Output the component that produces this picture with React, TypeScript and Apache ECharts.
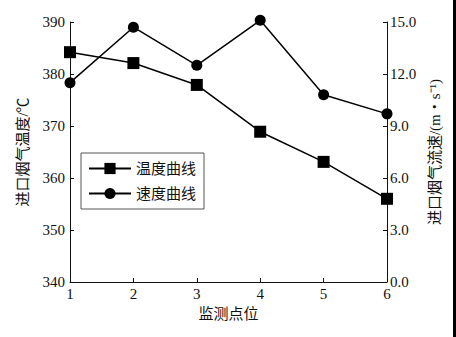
import React, { useEffect, useRef } from "react";
import * as echarts from "echarts";

const positions = [1, 2, 3, 4, 5, 6];
const temperature = [384.2, 382.1, 377.9, 368.9, 363.1, 356.0];
const speed = [11.5, 14.7, 12.5, 15.1, 10.8, 9.7];
const tempName = "温度曲线";
const speedName = "速度曲线";
const xName = "监测点位";
const leftName = "进口烟气温度/℃";
const rightName = "进口烟气流速/(m・s⁻¹)";

const FONT = "'Liberation Serif', 'Noto Sans CJK SC', serif";
const NUMFONT = "Liberation Serif";

export default function App() {
  const ref = useRef<HTMLDivElement>(null);
  useEffect(() => {
    if (!ref.current) return;
    const chart = echarts.init(ref.current, undefined, { renderer: "svg" });
    const axisCommon = {
      axisLine: { show: true, lineStyle: { color: "#111", width: 1 } },
      axisTick: { show: true, inside: true, length: 4, lineStyle: { color: "#111" } },
      splitLine: { show: false },
      axisLabel: { color: "#111", fontSize: 15, fontFamily: NUMFONT },
      nameTextStyle: { color: "#111", fontSize: 15, fontFamily: FONT },
    };
    chart.setOption({
      animation: false,
      backgroundColor: "#fff",
      textStyle: { fontFamily: FONT },
      grid: { left: 70, right: 69, top: 22, bottom: 55, containLabel: false },
      legend: {
        orient: "vertical",
        left: 81,
        top: 153,
        width: 124,
        borderColor: "#555",
        borderWidth: 1,
        padding: [8, 8, 8, 7],
        itemWidth: 42,
        itemHeight: 14,
        itemGap: 10,
        textStyle: { fontSize: 15, color: "#111", fontFamily: FONT },
        data: [tempName, speedName],
      },
      xAxis: {
        type: "value",
        min: 1,
        max: 6,
        interval: 1,
        name: xName,
        nameLocation: "middle",
        nameGap: 24,
        ...axisCommon,
        axisLabel: { ...axisCommon.axisLabel, margin: 4 },
      },
      yAxis: [
        {
          type: "value",
          min: 340,
          max: 390,
          interval: 10,
          position: "left",
          name: leftName,
          nameLocation: "middle",
          nameRotate: 90,
          nameGap: 40,
          ...axisCommon,
          axisLabel: { ...axisCommon.axisLabel, margin: 5 },
        },
        {
          type: "value",
          min: 0,
          max: 15,
          interval: 3,
          position: "right",
          name: rightName,
          nameLocation: "middle",
          nameRotate: 90,
          nameGap: 38,
          ...axisCommon,
          axisLabel: {
            ...axisCommon.axisLabel,
            margin: 3,
            formatter: (v: number) => v.toFixed(1),
          },
        },
      ],
      graphic: [
        { type: "rect", left: 453, top: 0, shape: { width: 3, height: 337 }, style: { fill: "#000" } },
      ],
      series: [
        {
          name: tempName,
          type: "line",
          yAxisIndex: 0,
          clip: false,
          data: positions.map((p, i) => [p, temperature[i]]),
          symbol: "rect",
          symbolSize: 12,
          lineStyle: { color: "#000", width: 1.5 },
          itemStyle: { color: "#000" },
        },
        {
          name: speedName,
          type: "line",
          yAxisIndex: 1,
          clip: false,
          data: positions.map((p, i) => [p, speed[i]]),
          symbol: "circle",
          symbolSize: 11,
          lineStyle: { color: "#000", width: 1.5 },
          itemStyle: { color: "#000" },
        },
      ],
    });
    return () => chart.dispose();
  }, []);
  return (
    <div
      ref={ref}
      style={{ position: "fixed", left: 0, top: 0, width: 456, height: 337, background: "#fff" }}
    />
  );
}
